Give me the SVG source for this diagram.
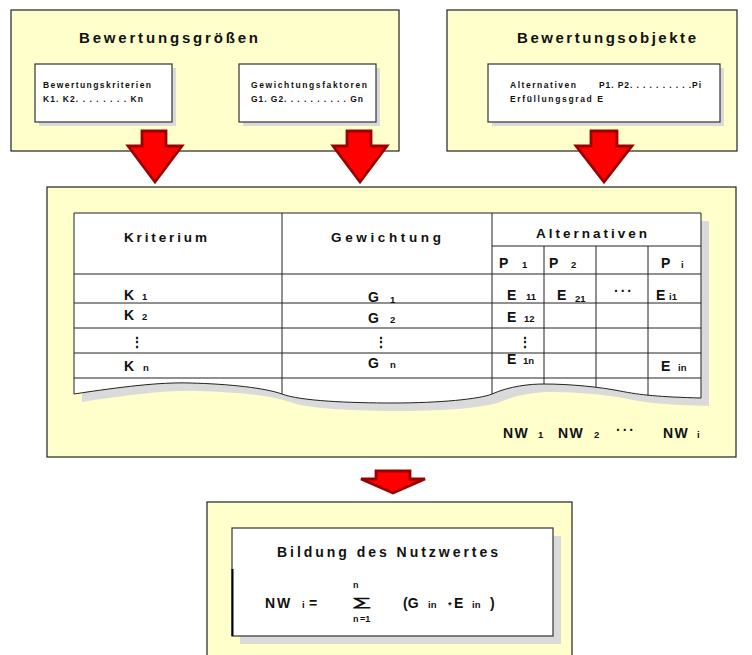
<svg xmlns="http://www.w3.org/2000/svg" width="752" height="655" viewBox="0 0 752 655">
<style>
.panel{fill:#FFFFCC;stroke:#222;stroke-width:1.2}
.card{fill:#fff;stroke:#333;stroke-width:1.2}
.shadow{fill:#DADADA}
.arrow{fill:#FF0000;stroke:#9A0000;stroke-width:2.8;stroke-linejoin:miter}
text{font-family:"Liberation Sans",Arial,sans-serif;font-weight:bold;fill:#111}
.h1{font-size:15px}
.sm{font-size:8.5px}
.th{font-size:13.5px}
.td{font-size:14px}
.sub{font-size:9.5px}
.grid{stroke:#222;stroke-width:1;fill:none}
</style>
<defs>
<clipPath id="tclip"><path d="M74,213 H701 V398 C660,397 640,395 620,391 C600,387 570,384 544,384 C530,384 510,386 492,394 C480,399 440,403 393,403 C350,403 300,401 282,394 C265,388 230,384 190,383 C160,382 120,387 74,394 Z"/></clipPath>
</defs>

<g id="bewertungsgroessen">
<rect class="panel" x="11" y="10" width="388" height="141"/>
<text class="h1" x="79" y="43" textLength="179" lengthAdjust="spacing">Bewertungsgrößen</text>
<rect class="shadow" x="39" y="68" width="137" height="58"/>
<rect class="card" x="35" y="64" width="137" height="58"/>
<text class="sm" x="43" y="88" textLength="108" lengthAdjust="spacing">Bewertungskriterien</text>
<text class="sm" x="43" y="102" textLength="100" lengthAdjust="spacing">K1. K2. . . . . . . . Kn</text>
<rect class="shadow" x="243" y="68" width="137" height="58"/>
<rect class="card" x="239" y="64" width="137" height="58"/>
<text class="sm" x="251" y="88" textLength="116" lengthAdjust="spacing">Gewichtungsfaktoren</text>
<text class="sm" x="251" y="102" textLength="112" lengthAdjust="spacing">G1. G2. . . . . . . . . . Gn</text>
</g>

<g id="bewertungsobjekte">
<rect class="panel" x="447" y="10" width="290" height="141"/>
<text class="h1" x="517" y="43" textLength="179" lengthAdjust="spacing">Bewertungsobjekte</text>
<rect class="shadow" x="492" y="68" width="232" height="58"/>
<rect class="card" x="488" y="64" width="232" height="58"/>
<text class="sm" x="510" y="88" textLength="66" lengthAdjust="spacing">Alternativen</text>
<text class="sm" x="599" y="88" textLength="102" lengthAdjust="spacing">P1. P2. . . . . . . . . .Pi</text>
<text class="sm" x="510" y="102" textLength="93" lengthAdjust="spacing">Erfüllungsgrad E</text>
</g>

<g id="bewertungstabelle">
<rect class="panel" x="47" y="187" width="689" height="270"/>
<g transform="translate(8,8)"><path class="shadow" d="M74,213 H701 V398 C660,397 640,395 620,391 C600,387 570,384 544,384 C530,384 510,386 492,394 C480,399 440,403 393,403 C350,403 300,401 282,394 C265,388 230,384 190,383 C160,382 120,387 74,394 Z"/></g>
<path fill="#fff" d="M74,213 H701 V398 C660,397 640,395 620,391 C600,387 570,384 544,384 C530,384 510,386 492,394 C480,399 440,403 393,403 C350,403 300,401 282,394 C265,388 230,384 190,383 C160,382 120,387 74,394 Z"/>
<g clip-path="url(#tclip)">
<line class="grid" x1="282" y1="213" x2="282" y2="410"/>
<line class="grid" x1="492" y1="213" x2="492" y2="410"/>
<line class="grid" x1="544" y1="246" x2="544" y2="410"/>
<line class="grid" x1="596" y1="246" x2="596" y2="410"/>
<line class="grid" x1="648" y1="246" x2="648" y2="410"/>
<line class="grid" x1="492" y1="246" x2="701" y2="246"/>
<line class="grid" x1="74" y1="274" x2="701" y2="274" stroke-width="2" stroke="#444"/>
<line class="grid" x1="74" y1="303" x2="701" y2="303"/>
<line class="grid" x1="74" y1="328" x2="701" y2="328"/>
<line class="grid" x1="74" y1="353" x2="701" y2="353"/>
<line class="grid" x1="74" y1="378" x2="701" y2="378"/>
</g>
<path class="grid" stroke="#333" d="M74,213 H701 V398 C660,397 640,395 620,391 C600,387 570,384 544,384 C530,384 510,386 492,394 C480,399 440,403 393,403 C350,403 300,401 282,394 C265,388 230,384 190,383 C160,382 120,387 74,394 Z"/>
<text class="th" x="124" y="242" textLength="83" lengthAdjust="spacing">Kriterium</text>
<text class="th" x="331" y="242" textLength="110" lengthAdjust="spacing">Gewichtung</text>
<text class="th" x="536" y="238" textLength="111" lengthAdjust="spacing">Alternativen</text>
<text class="td" x="499" y="268">P<tspan class="sub" x="522">1</tspan></text>
<text class="td" x="549" y="268">P<tspan class="sub" x="571">2</tspan></text>
<text class="td" x="661" y="268">P<tspan class="sub" x="681">i</tspan></text>
<text class="td" x="124" y="300">K<tspan class="sub" x="142">1</tspan></text>
<text class="td" x="124" y="320">K<tspan class="sub" x="142">2</tspan></text>
<text class="td" x="130" y="347">⋮</text>
<text class="td" x="124" y="371">K<tspan class="sub" x="143">n</tspan></text>
<text class="td" x="368" y="302">G<tspan class="sub" x="390" dy="1">1</tspan></text>
<text class="td" x="368" y="323">G<tspan class="sub" x="390">2</tspan></text>
<text class="td" x="374" y="347">⋮</text>
<text class="td" x="368" y="368">G<tspan class="sub" x="390">n</tspan></text>
<text class="td" x="507" y="300">E<tspan class="sub" x="526">11</tspan></text>
<text class="td" x="557" y="300">E<tspan class="sub" x="575" dy="2">21</tspan></text>
<text class="td" x="614" y="296" letter-spacing="2">···</text>
<text class="td" x="656" y="300">E<tspan class="sub" x="669">i1</tspan></text>
<text class="td" x="507" y="322">E<tspan class="sub" x="524">12</tspan></text>
<text class="td" x="518" y="347">⋮</text>
<text class="td" x="507" y="364">E<tspan class="sub" x="523">1n</tspan></text>
<text class="td" x="661" y="371">E<tspan class="sub" x="678">in</tspan></text>
<text class="td" x="503" y="438" letter-spacing="1.5">NW<tspan class="sub" x="538" letter-spacing="0">1</tspan></text>
<text class="td" x="558" y="438" letter-spacing="1.5">NW<tspan class="sub" x="594" letter-spacing="0">2</tspan></text>
<text class="td" x="616" y="435" letter-spacing="2">···</text>
<text class="td" x="663" y="438" letter-spacing="1.5">NW<tspan class="sub" x="697" letter-spacing="0">i</tspan></text>
</g>

<g id="nutzwert">
<rect class="panel" x="207" y="502" width="365" height="160"/>
<rect class="shadow" x="240" y="536" width="321" height="108"/>
<rect class="card" x="232" y="528" width="321" height="108"/>
<line x1="232.5" y1="569" x2="232.5" y2="636" stroke="#000" stroke-width="2"/>
<text x="277" y="557" font-size="14" textLength="221" lengthAdjust="spacing">Bildung des Nutzwertes</text>
<text class="td" x="265" y="608" letter-spacing="2">NW</text>
<text class="sub" x="302" y="608">i</text>
<text class="td" x="309" y="608">=</text>
<text x="353" y="588" font-size="9">n</text>
<text font-size="17" font-weight="normal" font-family="'Liberation Serif',serif" fill="#333" transform="translate(351,606) scale(1.7,0.7)">∑</text>
<text x="353" y="622" font-size="9">n <tspan x="360">=1</tspan></text>
<text class="td" x="403" y="608">(G<tspan class="sub" x="428">in</tspan><tspan class="sub" x="448">*</tspan><tspan x="454">E</tspan><tspan class="sub" x="472">in</tspan><tspan x="490">)</tspan></text>
</g>

<g id="connectors">
<polygon class="arrow" points="142,131 166,131 166,146 182,146 155,182 128,146 142,146"/>
<polygon class="arrow" points="347,131 371,131 371,146 387,146 360,182 333,146 347,146"/>
<polygon class="arrow" points="591,131 617,131 617,146 632,146 604,182 576,146 591,146"/>
<polygon class="arrow" points="376,471 410,471 410,479 425,479 393,493 361,479 376,479"/>
</g>
</svg>
